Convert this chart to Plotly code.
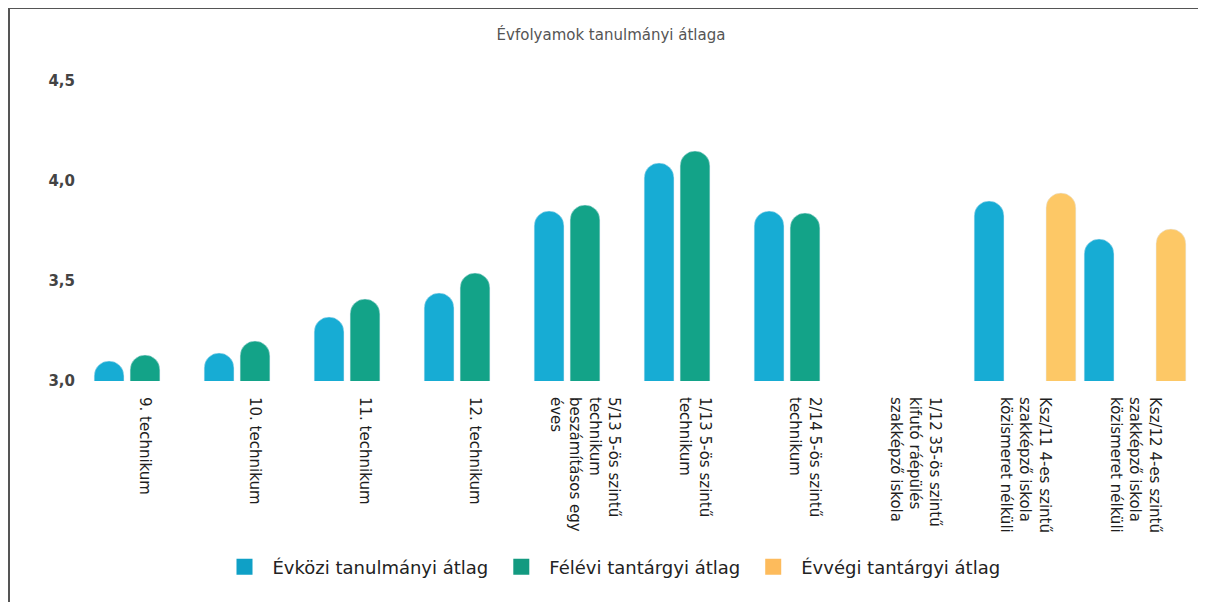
import plotly.graph_objects as go

categories = [
    "9. technikum",
    "10. technikum",
    "11. technikum",
    "12. technikum",
    "5/13 5-ös szintű<br>technikum<br>beszámításos egy<br>éves",
    "1/13 5-ös szintű<br>technikum",
    "2/14 5-ös szintű<br>technikum",
    "1/12 35-ös szintű<br>kifutó ráépülés<br>szakképző iskola",
    "Ksz/11 4-es szintű<br>szakképző iskola<br>közismeret nélküli",
    "Ksz/12 4-es szintű<br>szakképző iskola<br>közismeret nélküli",
]
evkozi = [3.10, 3.14, 3.32, 3.44, 3.85, 4.09, 3.85, None, 3.90, 3.71]
felevi = [3.13, 3.20, 3.41, 3.54, 3.88, 4.15, 3.84, None, None, None]
evvegi = [None, None, None, None, None, None, None, None, 3.94, 3.76]

series_names = ["Évközi tanulmányi átlag", "Félévi tantárgyi átlag", "Évvégi tantárgyi átlag"]
series_values = [evkozi, felevi, evvegi]
bar_colors = ["#17ACD4", "#13A388", "#FDC866"]
legend_colors = ["#0FA0C6", "#139A80", "#FDBB5C"]
y_ticks = [3.0, 3.5, 4.0, 4.5]

FONT = "DejaVu Sans, Roboto, Arial, sans-serif"

fig = go.Figure()
for name, vals, col in zip(series_names, series_values, bar_colors):
    fig.add_trace(go.Bar(
        x=categories, y=vals, name=name, marker=dict(color=col, cornerradius="50%"),
        showlegend=False, hoverinfo="x+y+name",
    ))
for name, col in zip(series_names, legend_colors):
    fig.add_trace(go.Scatter(
        x=[None], y=[None], mode="markers", name=name,
        marker=dict(symbol="square", size=16, color=col),
    ))

fig.update_layout(
    width=1206, height=607,
    paper_bgcolor="white", plot_bgcolor="white",
    margin=dict(l=82, r=24, t=73, b=234, autoexpand=False),
    barmode="group", bargap=0.02, bargroupgap=0.17,
    separators=", ",
    font=dict(family=FONT, color="#222"),
    title=dict(text="Évfolyamok tanulmányi átlaga", x=0.5, xref="container", xanchor="center",
               y=1 - 27 / 607, yref="container", yanchor="middle",
               font=dict(size=15, color="#555")),
    legend=dict(orientation="h", x=0.5, xref="container", xanchor="center",
                y=1 - 559 / 607, yref="container", yanchor="middle",
                font=dict(size=18, color="#222"), itemwidth=46, tracegroupgap=0),
    showlegend=True,
)
fig.update_xaxes(
    type="category", tickangle=90, showgrid=False, zeroline=False, showline=False,
    ticks="", tickfont=dict(size=15, color="#1e1e1e"), ticklabelstandoff=15,
)
fig.update_yaxes(
    range=[3, 4.5], tickvals=y_ticks, tickformat=".1f", showgrid=False, zeroline=False,
    showline=False, ticks="", tickfont=dict(size=15, color="#444", weight="bold"),
    ticklabelstandoff=14,
)
fig.add_shape(type="line", xref="paper", yref="paper", x0=-0.082, x1=1.03,
              y0=(381 - 8) / 300, y1=(381 - 8) / 300, line=dict(color="#555", width=2))
fig.add_shape(type="line", xref="paper", yref="paper", x0=(9 - 90) / 1100, x1=(9 - 90) / 1100,
              y0=(381 - 8) / 300, y1=(381 - 602) / 300, line=dict(color="#555", width=2))

fig.write_html("out.html")
